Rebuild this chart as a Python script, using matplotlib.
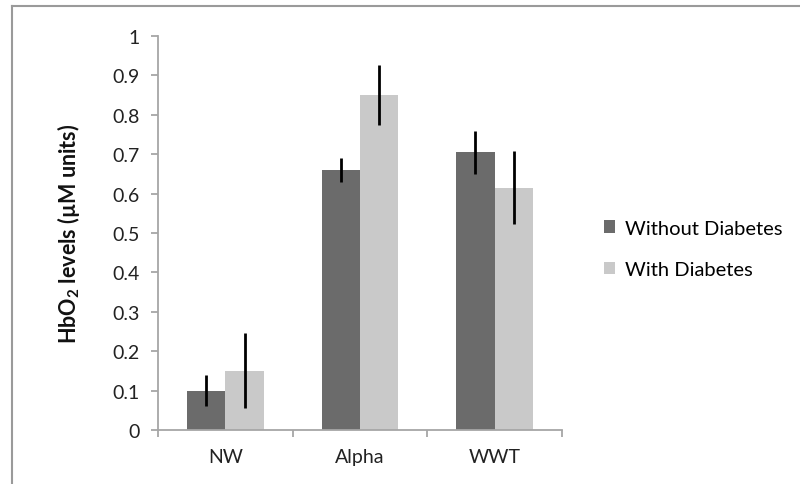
import numpy as np
import matplotlib
matplotlib.use("Agg")
import matplotlib.pyplot as plt
from matplotlib.lines import Line2D

plt.rcParams['font.family'] = ['Lato', 'DejaVu Sans']
plt.rcParams['mathtext.fontset'] = 'custom'
plt.rcParams['mathtext.bf'] = 'Lato:bold'
plt.rcParams['mathtext.rm'] = 'Lato'

categories = ['NW', 'Alpha', 'WWT']
without_diabetes = [0.10, 0.66, 0.705]
without_err = [0.04, 0.03, 0.055]
with_diabetes = [0.15, 0.85, 0.615]
with_err = [0.095, 0.077, 0.093]

dark = '#6b6b6b'
light = '#c9c9c9'
axis_gray = '#a6a6a6'

fig = plt.figure(figsize=(8, 4.85), dpi=100)
ax = fig.add_axes([0.1975, 0.1113, 0.505, 0.8124])

x = np.arange(len(categories))
w = 0.285
ax.bar(x - w / 2, without_diabetes, w, color=dark, label='Without Diabetes')
ax.bar(x + w / 2, with_diabetes, w, color=light, label='With Diabetes')
ax.errorbar(x - w / 2, without_diabetes, yerr=without_err, fmt='none',
            ecolor='black', elinewidth=2, capsize=0)
ax.errorbar(x + w / 2, with_diabetes, yerr=with_err, fmt='none',
            ecolor='black', elinewidth=2, capsize=0)

ax.set_xlim(-0.5, len(categories) - 0.5)
ax.set_ylim(0, 1)
ax.set_yticks(np.arange(0, 1.01, 0.1))
ax.set_yticklabels(['0', '0.1', '0.2', '0.3', '0.4', '0.5', '0.6', '0.7', '0.8', '0.9', '1'])
ax.set_xticks(x)
ax.set_xticklabels(categories)
ax.set_xticks(np.arange(-0.5, len(categories), 1), minor=True)
ax.tick_params(axis='x', which='major', length=0, pad=13, labelsize=14, colors='#222222')
ax.tick_params(axis='x', which='minor', length=5, width=1.3, color=axis_gray, direction='out')
ax.tick_params(axis='y', length=5, width=1.3, color=axis_gray, pad=8, labelsize=14,
               labelcolor='#222222')

for s in ['top', 'right']:
    ax.spines[s].set_visible(False)
for s in ['left', 'bottom']:
    ax.spines[s].set_color(axis_gray)
    ax.spines[s].set_linewidth(1.3)

ax.set_ylabel(r'HbO$_\mathbf{2}$ levels (µM units)', fontsize=15.5, fontweight='bold',
              labelpad=22, color='#111111')

ax.legend(loc='center left', bbox_to_anchor=(1.06, 0.46), frameon=False, fontsize=14.5,
          handlelength=0.55, handleheight=0.55, handletextpad=0.45, labelspacing=1.2)

# outer frame like the exported chart area
fig.add_artist(Line2D([0.015, 0.015], [0.0, 0.985], color='#9a9a9a', lw=1.5))
fig.add_artist(Line2D([0.015, 1.0], [0.985, 0.985], color='#9a9a9a', lw=1.5))

fig.savefig('out.png', dpi=100)
